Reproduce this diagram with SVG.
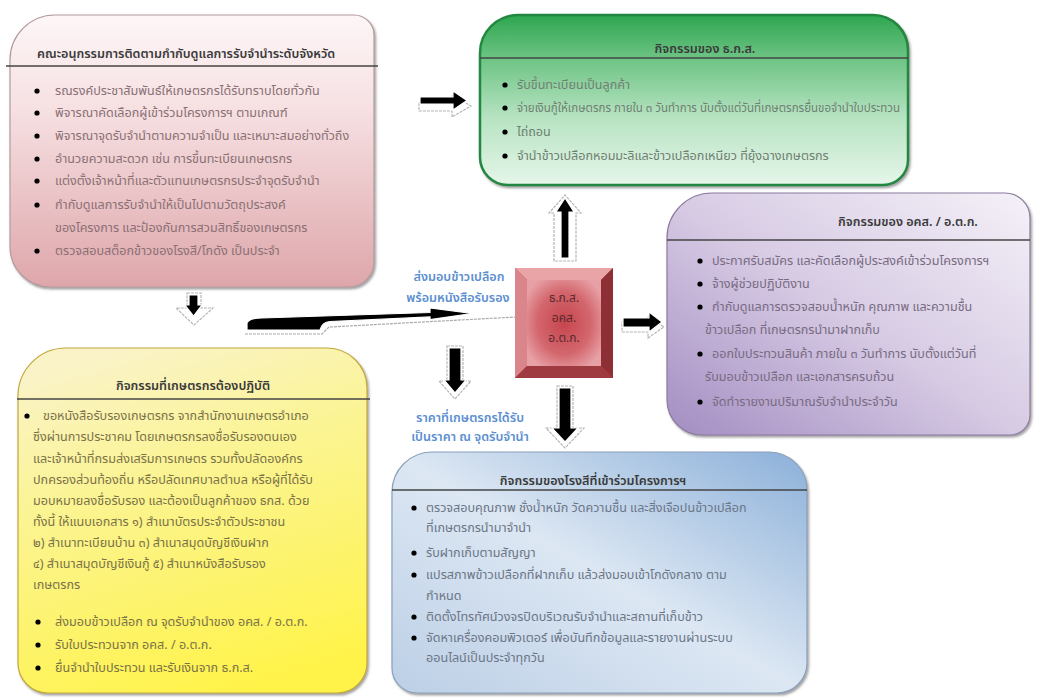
<svg xmlns="http://www.w3.org/2000/svg" width="1041" height="698" viewBox="0 0 1041 698">
<defs>
<style>
text{font-family:"Noto Sans Thai","Noto Sans","DejaVu Sans","Liberation Sans",sans-serif;font-size:12.6px}
.hd{font-weight:600;fill:#3a3a3a;font-size:12.6px}
.tp{fill:#8a7074}.tg{fill:#6f8072}.tu{fill:#786b82}.ty{fill:#7a7248}.tb{fill:#6b7687}
.lbl{fill:#5b8fd0;font-weight:600;font-size:12.6px;text-anchor:middle}
.ctr{fill:#5a2a2e;font-size:12px;text-anchor:middle}
.sep{stroke:#444;stroke-width:1.5}
.blk{fill:#000;stroke:#fff;stroke-width:1.2}
.shd{fill:#fff;stroke:#b5b5b5;stroke-width:1.2;stroke-dasharray:3 1}
</style>
<filter id="ds" x="-5%" y="-5%" width="110%" height="115%"><feDropShadow dx="1.5" dy="2" stdDeviation="1.2" flood-color="#555" flood-opacity="0.55"/></filter>
<linearGradient id="gp" x1="0" y1="0" x2="0" y2="1"><stop offset="0" stop-color="#fdf6f7"/><stop offset="0.35" stop-color="#f6e0e2"/><stop offset="1" stop-color="#dea6aa"/></linearGradient>
<linearGradient id="gg" x1="0" y1="0" x2="0" y2="1"><stop offset="0" stop-color="#2ea64f"/><stop offset="0.25" stop-color="#6cc383"/><stop offset="0.6" stop-color="#b6e3c1"/><stop offset="1" stop-color="#e6f6ea"/></linearGradient>
<linearGradient id="gu" x1="0" y1="1" x2="1" y2="0"><stop offset="0" stop-color="#a38dc2"/><stop offset="0.5" stop-color="#d7cbe4"/><stop offset="1" stop-color="#f5f1f8"/></linearGradient>
<linearGradient id="gy" x1="0.3" y1="0" x2="0.6" y2="1"><stop offset="0" stop-color="#faf3c8"/><stop offset="0.35" stop-color="#fbf495"/><stop offset="1" stop-color="#fff34a"/></linearGradient>
<linearGradient id="gb" x1="1" y1="0" x2="0" y2="1"><stop offset="0" stop-color="#8cb0d9"/><stop offset="0.5" stop-color="#dce7f3"/><stop offset="1" stop-color="#bccfe6"/></linearGradient>
<radialGradient id="gc" cx="0.5" cy="0.5" r="0.6"><stop offset="0" stop-color="#c6454e"/><stop offset="0.6" stop-color="#d3666d"/><stop offset="1" stop-color="#e7a0a5"/></radialGradient>
</defs>

<g id="pink-box">
<path d="M55,15 H354 A20,20 0 0 1 374,35 V262 A25,25 0 0 1 349,287 H50 A40,40 0 0 1 10,247 V60 A45,45 0 0 1 55,15 Z" fill="url(#gp)" stroke="#b49a9d" stroke-width="1.2" filter="url(#ds)"/>
<line class="sep" x1="6" y1="66" x2="378" y2="66"/>
<text class="hd" x="37" y="58">คณะอนุกรรมการติดตามกำกับดูแลการรับจำนำระดับจังหวัด</text>
<g fill="#000"><circle cx="37" cy="91" r="2.6"/><circle cx="37" cy="113" r="2.6"/><circle cx="37" cy="136" r="2.6"/><circle cx="37" cy="159" r="2.6"/><circle cx="37" cy="181" r="2.6"/><circle cx="37" cy="205" r="2.6"/><circle cx="37" cy="251" r="2.6"/></g>
<text class="tp" x="55" y="95">รณรงค์ประชาสัมพันธ์ให้เกษตรกรได้รับทราบโดยทั่วกัน</text>
<text class="tp" x="55" y="117">พิจารณาคัดเลือกผู้เข้าร่วมโครงการฯ  ตามเกณฑ์</text>
<text class="tp" x="55" y="140">พิจารณาจุดรับจำนำตามความจำเป็น  และเหมาะสมอย่างทั่วถึง</text>
<text class="tp" x="55" y="163">อำนวยความสะดวก  เช่น  การขึ้นทะเบียนเกษตรกร</text>
<text class="tp" x="55" y="185">แต่งตั้งเจ้าหน้าที่และตัวแทนเกษตรกรประจำจุดรับจำนำ</text>
<text class="tp" x="55" y="209">กำกับดูแลการรับจำนำให้เป็นไปตามวัตถุประสงค์</text>
<text class="tp" x="55" y="232">ของโครงการ  และป้องกันการสวมสิทธิ์ของเกษตรกร</text>
<text class="tp" x="55" y="255">ตรวจสอบสต็อกข้าวของโรงสี/โกดัง เป็นประจำ</text>
</g>

<g id="green-box">
<path d="M518,15 H873 A35,35 0 0 1 908,50 V160 A25,25 0 0 1 883,185 H508 A28,28 0 0 1 480,157 V53 A38,38 0 0 1 518,15 Z" fill="url(#gg)" stroke="#23873f" stroke-width="2.5" filter="url(#ds)"/>
<line class="sep" x1="480" y1="58" x2="908" y2="58"/>
<text class="hd" x="705" y="53" text-anchor="middle">กิจกรรมของ  ธ.ก.ส.</text>
<g fill="#000"><circle cx="505" cy="85" r="2.6"/><circle cx="505" cy="108" r="2.6"/><circle cx="505" cy="132" r="2.6"/><circle cx="505" cy="156" r="2.6"/></g>
<text class="tg" x="517" y="89">รับขึ้นทะเบียนเป็นลูกค้า</text>
<text class="tg" x="517" y="112" textLength="383" lengthAdjust="spacingAndGlyphs">จ่ายเงินกู้ให้เกษตรกร ภายใน ๓ วันทำการ นับตั้งแต่วันที่เกษตรกรยื่นขอจำนำใบประทวน</text>
<text class="tg" x="517" y="136">ไถ่ถอน</text>
<text class="tg" x="517" y="160">จำนำข้าวเปลือกหอมมะลิและข้าวเปลือกเหนียว  ที่ยุ้งฉางเกษตรกร</text>
</g>

<g id="purple-box">
<path d="M712,193 H1005 A25,25 0 0 1 1030,218 V415 A20,20 0 0 1 1010,435 H702 A35,35 0 0 1 667,400 V238 A45,45 0 0 1 712,193 Z" fill="url(#gu)" stroke="#8c7b9f" stroke-width="1.2" filter="url(#ds)"/>
<line class="sep" x1="667" y1="240" x2="1030" y2="240"/>
<text class="hd" x="908" y="226" text-anchor="middle">กิจกรรมของ  อคส. / อ.ต.ก.</text>
<g fill="#000"><circle cx="700" cy="261" r="2.6"/><circle cx="700" cy="284" r="2.6"/><circle cx="700" cy="307" r="2.6"/><circle cx="700" cy="354" r="2.6"/><circle cx="700" cy="402" r="2.6"/></g>
<text class="tu" x="712" y="265">ประกาศรับสมัคร  และคัดเลือกผู้ประสงค์เข้าร่วมโครงการฯ</text>
<text class="tu" x="712" y="288">จ้างผู้ช่วยปฏิบัติงาน</text>
<text class="tu" x="712" y="311">กำกับดูแลการตรวจสอบน้ำหนัก  คุณภาพ  และความชื้น</text>
<text class="tu" x="705" y="334">ข้าวเปลือก  ที่เกษตรกรนำมาฝากเก็บ</text>
<text class="tu" x="712" y="358">ออกใบประทวนสินค้า  ภายใน  ๓  วันทำการ นับตั้งแต่วันที่</text>
<text class="tu" x="705" y="381">รับมอบข้าวเปลือก  และเอกสารครบถ้วน</text>
<text class="tu" x="712" y="406">จัดทำรายงานปริมาณรับจำนำประจำวัน</text>
</g>

<g id="yellow-box">
<path d="M66,348 H327 A40,40 0 0 1 367,388 V663 A30,30 0 0 1 337,693 H48 A30,30 0 0 1 18,663 V396 A48,48 0 0 1 66,348 Z" fill="url(#gy)" stroke="#c2a83c" stroke-width="1.2" filter="url(#ds)"/>
<line class="sep" x1="17" y1="399" x2="370" y2="399"/>
<text class="hd" x="193" y="390" text-anchor="middle">กิจกรรมที่เกษตรกรต้องปฏิบัติ</text>
<g fill="#000"><circle cx="27" cy="416" r="2.6"/><circle cx="38" cy="622" r="2.6"/><circle cx="38" cy="645" r="2.6"/><circle cx="38" cy="668" r="2.6"/></g>
<text class="ty" x="43" y="420">ขอหนังสือรับรองเกษตรกร  จากสำนักงานเกษตรอำเภอ</text>
<text class="ty" x="33" y="441">ซึ่งผ่านการประชาคม  โดยเกษตรกรลงชื่อรับรองตนเอง</text>
<text class="ty" x="33" y="463">และเจ้าหน้าที่กรมส่งเสริมการเกษตร  รวมทั้งปลัดองค์กร</text>
<text class="ty" x="33" y="484">ปกครองส่วนท้องถิ่น หรือปลัดเทศบาลตำบล หรือผู้ที่ได้รับ</text>
<text class="ty" x="33" y="505">มอบหมายลงชื่อรับรอง  และต้องเป็นลูกค้าของ ธกส. ด้วย</text>
<text class="ty" x="33" y="526">ทั้งนี้  ให้แนบเอกสาร  ๑) สำเนาบัตรประจำตัวประชาชน</text>
<text class="ty" x="33" y="547">๒) สำเนาทะเบียนบ้าน  ๓) สำเนาสมุดบัญชีเงินฝาก</text>
<text class="ty" x="33" y="568">๔)  สำเนาสมุดบัญชีเงินกู้  ๕) สำเนาหนังสือรับรอง</text>
<text class="ty" x="33" y="589">เกษตรกร</text>
<text class="ty" x="55" y="626">ส่งมอบข้าวเปลือก  ณ  จุดรับจำนำของ  อคส. / อ.ต.ก.</text>
<text class="ty" x="55" y="649">รับใบประทวนจาก  อคส. / อ.ต.ก.</text>
<text class="ty" x="55" y="672">ยื่นจำนำใบประทวน  และรับเงินจาก  ธ.ก.ส.</text>
</g>

<g id="blue-box">
<path d="M432,452 H769 A38,38 0 0 1 807,490 V663 A30,30 0 0 1 777,693 H417 A25,25 0 0 1 392,668 V492 A40,40 0 0 1 432,452 Z" fill="url(#gb)" stroke="#8aa0bb" stroke-width="1.2" filter="url(#ds)"/>
<line class="sep" x1="392" y1="490" x2="807" y2="490"/>
<text class="hd" x="593" y="485" text-anchor="middle">กิจกรรมของโรงสีที่เข้าร่วมโครงการฯ</text>
<g fill="#000"><circle cx="414" cy="508" r="2.6"/><circle cx="414" cy="553" r="2.6"/><circle cx="414" cy="575" r="2.6"/><circle cx="414" cy="617" r="2.6"/><circle cx="414" cy="638" r="2.6"/></g>
<text class="tb" x="426" y="512">ตรวจสอบคุณภาพ  ชั่งน้ำหนัก  วัดความชื้น  และสิ่งเจือปนข้าวเปลือก</text>
<text class="tb" x="426" y="532">ที่เกษตรกรนำมาจำนำ</text>
<text class="tb" x="426" y="557">รับฝากเก็บตามสัญญา</text>
<text class="tb" x="426" y="579">แปรสภาพข้าวเปลือกที่ฝากเก็บ  แล้วส่งมอบเข้าโกดังกลาง  ตาม</text>
<text class="tb" x="426" y="600">กำหนด</text>
<text class="tb" x="426" y="621">ติดตั้งโทรทัศน์วงจรปิดบริเวณรับจำนำและสถานที่เก็บข้าว</text>
<text class="tb" x="426" y="642">จัดหาเครื่องคอมพิวเตอร์  เพื่อบันทึกข้อมูลและรายงานผ่านระบบ</text>
<text class="tb" x="426" y="662">ออนไลน์เป็นประจำทุกวัน</text>
</g>

<g id="center-box">
<rect x="515" y="268" width="98" height="110" fill="#b8434b"/>
<polygon points="515,268 613,268 601,280 527,280" fill="#e9a4a8"/>
<polygon points="515,268 527,280 527,366 515,378" fill="#d9858b"/>
<polygon points="613,268 613,378 601,366 601,280" fill="#8e2f36"/>
<polygon points="515,378 527,366 601,366 613,378" fill="#a03a41"/>
<rect x="527" y="280" width="74" height="86" fill="url(#gc)"/>
<text class="ctr" x="564" y="302">ธ.ก.ส.</text>
<text class="ctr" x="564" y="322">อคส.</text>
<text class="ctr" x="564" y="342">อ.ต.ก.</text>
</g>

<g id="labels">
<text class="lbl" x="459" y="281">ส่งมอบข้าวเปลือก</text>
<text class="lbl" x="458" y="302">พร้อมหนังสือรับรอง</text>
<text class="lbl" x="470" y="422">ราคาที่เกษตรกรได้รับ</text>
<text class="lbl" x="470" y="441">เป็นราคา  ณ  จุดรับจำนำ</text>
</g>

<g id="connectors">
<polygon class="shd" points="418,99 451,99 451,92 470,103 451,114 451,108 418,108" transform="translate(1,3)"/>
<polygon class="blk" points="420,97 453,97 453,91 467,100.5 453,110 453,104 420,104"/>
<polygon class="shd" points="554,261 554,213 549,213 565,195 581,213 576,213 576,261"/>
<polygon class="blk" points="561,258 561,212 556,212 565,198 574,212 569,212 569,258"/>
<polygon class="shd" points="622,320 648,320 648,314 664,325 648,336 648,330 622,330" transform="translate(0,2)"/>
<polygon class="blk" points="623,318 649,318 649,312 662,322 649,332 649,327 623,327"/>
<polygon class="shd" points="187,293 201,293 201,308 213,308 194,325 176,308 187,308"/>
<polygon class="blk" points="189,295 198,295 198,305 202,305 193.5,316 185,305 189,305"/>
<polygon class="shd" points="447,346 463,346 463,381 471,381 455,399 439,381 447,381"/>
<polygon class="blk" points="449,348 461,348 461,380 466,380 455,393 444,380 449,380"/>
<polygon class="shd" points="557,386 573,386 573,428 584,428 565,448 546,428 557,428"/>
<polygon class="blk" points="559,388 571,388 571,428 578,428 565,442 552,428 559,428"/>
<path d="M330,327 L516,317" stroke="#aaa" stroke-width="1.2" stroke-dasharray="3 1" fill="none"/>
<path d="M245,334 H322 L330,326" stroke="#aaa" stroke-width="1.2" stroke-dasharray="3 1" fill="none"/>
<path class="blk" d="M247,330 L247,323 Q249,318 262,318 L430,312.5 L430,308 L472,313.5 L430,319.5 L430,317 L330,321.5 Q322,322 320,330 Z"/>
</g>
</svg>
